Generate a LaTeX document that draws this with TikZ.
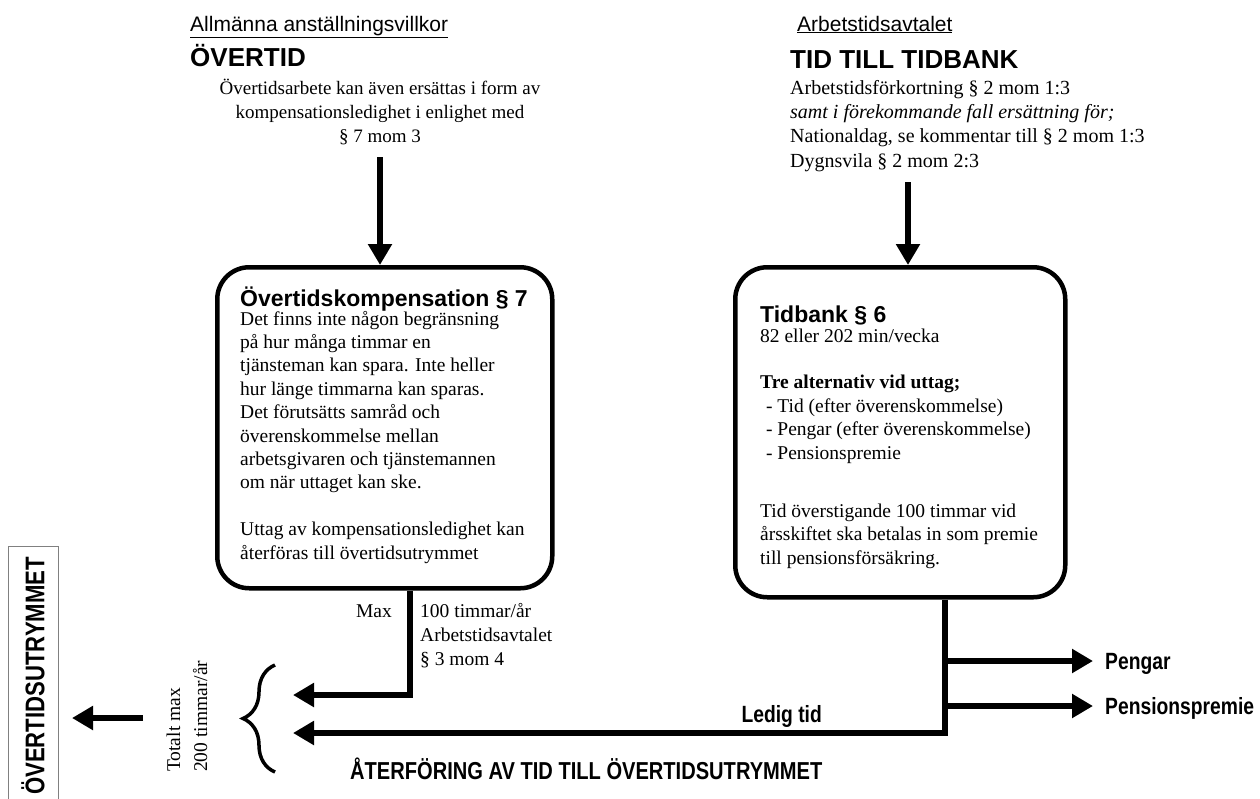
\documentclass[tikz,border=0pt]{standalone}
\usepackage{fontspec}
\setmainfont{Liberation Serif}
\setsansfont{Liberation Sans}
\newfontfamily\condfont{Liberation Sans}[FakeStretch=0.82]
\usetikzlibrary{arrows.meta,positioning,decorations.pathreplacing}

\begin{document}
\begin{tikzpicture}
    %% setup
    [
        x=1pt, y=1pt,
        roundbox/.style={draw, line width=4.5pt, rounded corners=32pt},
        bigarrow/.style={line width=6.5pt, -{Triangle[length=21pt,width=23pt]}},
        undertext/.style={font=\sffamily\fontsize{21}{25}\selectfont, inner sep=0pt},
        headtext/.style={font=\sffamily\bfseries\fontsize{26}{30}\selectfont, inner sep=0pt},
        titletext/.style={font=\sffamily\bfseries\fontsize{23}{27}\selectfont, inner sep=0pt},
        bodytext/.style={font=\fontsize{19.5}{23.4}\selectfont, align=left, inner sep=0pt},
        labeltext/.style={font=\condfont\bfseries\fontsize{23.5}{27}\selectfont, inner sep=0pt},
    ]
    \useasboundingbox (0,0) rectangle (1260,-798);

    %% Top texts
    \node [undertext, anchor=base west] (allmtitle) at (190,-31) {\underline{Allmänna anställningsvillkor}};
    \node [headtext, anchor=base west] (overtid) at (190,-66) {ÖVERTID};
    \node [bodytext, align=center, anchor=north, font=\fontsize{19}{24}\selectfont] (overtidtext) at (380,-77.2)
        {\strut Övertidsarbete kan även ersättas i form av\\kompensationsledighet i enlighet med\\§ 7 mom 3};
    \node [undertext, anchor=base west] (arbtitle) at (797,-31) {\underline{Arbetstidsavtalet}};
    \node [headtext, anchor=base west] (tidbankhead) at (790,-68) {TID TILL TIDBANK};
    \node [bodytext, anchor=north west, font=\fontsize{20}{24.4}\selectfont] (tidbanktext) at (790,-76.9)
        {\strut Arbetstidsförkortning § 2 mom 1:3\\\textit{samt i förekommande fall ersättning för;}\\Nationaldag, se kommentar till § 2 mom 1:3\\Dygnsvila § 2 mom 2:3};

    %% Boxes
    \node [roundbox, minimum width=335pt, minimum height=321pt, anchor=north west] (kompbox) at (215,-265) {};
    \node [titletext, anchor=base west] (komptitle) at (240,-306) {Övertidskompensation § 7};
    \node [bodytext, anchor=north west] (kompbody) at (240,-308.6)
        {\strut Det finns inte någon begränsning\\på hur många timmar en\\tjänsteman kan spara. Inte heller\\hur länge timmarna kan sparas.\\Det förutsätts samråd och\\överenskommelse mellan\\arbetsgivaren och tjänstemannen\\om när uttaget kan ske.\\[23.4pt]Uttag av kompensationsledighet kan\\återföras till övertidsutrymmet};
    \node [roundbox, minimum width=330pt, minimum height=330pt, anchor=north west] (bankbox) at (733,-265) {};
    \node [titletext, anchor=base west] (banktitle) at (760,-322) {Tidbank § 6};
    \node [bodytext, anchor=north west] (bankbody) at (760,-325.6)
        {\strut 82 eller 202 min/vecka\\[23.4pt]\textbf{Tre alternativ vid uttag;}\\\hspace{0.3em}- Tid (efter överenskommelse)\\\hspace{0.3em}- Pengar (efter överenskommelse)\\\hspace{0.3em}- Pensionspremie\\[35pt]Tid överstigande 100 timmar vid\\årsskiftet ska betalas in som premie\\till pensionsförsäkring.};

    %% Lower labels
    \node [bodytext, anchor=base east] (maxlabel) at (392,-617) {Max};
    \node [bodytext, anchor=north west, font=\fontsize{19.5}{24}\selectfont] (maxtext) at (420,-600.2)
        {\strut 100 timmar/år\\Arbetstidsavtalet\\§ 3 mom 4};
    \node [labeltext, anchor=base west] (pengar) at (1105,-669.5) {Pengar};
    \node [labeltext, anchor=base west] (pension) at (1105,-714.5) {Pensionspremie};
    \node [labeltext, anchor=base east] (ledigtid) at (822,-722) {Ledig tid};
    \node [labeltext, anchor=base west, font=\condfont\bfseries\fontsize{24.5}{28}\selectfont] (aterforing) at (350,-779) {ÅTERFÖRING AV TID TILL ÖVERTIDSUTRYMMET};
    \node [bodytext, rotate=90, anchor=north west, font=\fontsize{19.5}{27}\selectfont] (totaltmax) at (161,-772)
        {\strut Totalt max\\200 timmar/år};
    \node [labeltext, rotate=90, anchor=west, font=\condfont\bfseries\fontsize{27}{30}\selectfont] (utrymme) at (33,-795) {ÖVERTIDSUTRYMMET};
    \draw [gray, line width=1pt] (8,-805) -- (8,-546) -- (58,-546) -- (58,-805);

    %% Coordinates
    \coordinate (arrowL) at (380,-157);
    \coordinate (arrowR) at (908,-182);
    \coordinate (dropL) at (410,-695);
    \coordinate (dropR) at (945,-733);
    \coordinate (inL) at (293,-695);
    \coordinate (inR) at (293,-733);
    \coordinate (pengarRow) at (0,-661);
    \coordinate (pensionRow) at (0,-706);
    \coordinate (braceBot) at (275,-772);
    \coordinate (braceTop) at (275,-665);
    \coordinate (outStart) at (143,-718);
    \coordinate (outEnd) at (72,-718);

    %% Lines
    \draw [bigarrow] (arrowL) -- (arrowL |- kompbox.north);
    \draw [bigarrow] (arrowR) -- (arrowR |- bankbox.north);
    \draw [bigarrow] (kompbox.south -| dropL) -- (dropL) -- (inL);
    \draw [bigarrow] (bankbox.south -| dropR) -- (dropR) -- (inR);
    \draw [bigarrow] (dropR |- pengarRow) -- ([xshift=-12pt]pengar.west |- pengarRow);
    \draw [bigarrow] (dropR |- pensionRow) -- ([xshift=-12pt]pension.west |- pensionRow);
    \draw [line width=3.5pt, decorate, decoration={brace, amplitude=32pt}] (braceBot) -- (braceTop);
    \draw [bigarrow] (outStart) -- (outEnd);
\end{tikzpicture}
\end{document}
